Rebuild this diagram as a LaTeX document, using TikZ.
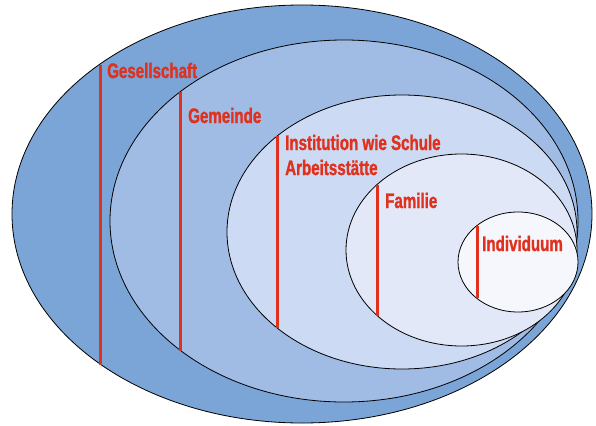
\documentclass[tikz,border=0pt]{standalone}
\usepackage{fontspec}
\setmainfont{Liberation Sans}[FakeStretch=0.72, BoldFeatures={FakeBold=1.2}]
\usetikzlibrary{positioning}

\definecolor{ringA}{HTML}{7AA5D6}
\definecolor{ringB}{HTML}{A0BCE4}
\definecolor{ringC}{HTML}{CCDAF3}
\definecolor{ringD}{HTML}{E2E8F7}
\definecolor{ringE}{HTML}{F5F7FC}
\definecolor{levelred}{HTML}{E0301E}

\begin{document}
\begin{tikzpicture}[x=1pt, y=-1pt,
    ring/.style={draw=black, line width=0.8pt},
    marker/.style={draw=levelred, line width=3pt},
    levelname/.style={anchor=base west, inner sep=0pt, text=levelred,
      font=\fontsize{21}{24}\selectfont\bfseries}]
  \useasboundingbox (0,0) rectangle (596,425);

  % nested rings, from outside to inside
  \draw[ring, fill=ringA] (302,214) ellipse [x radius=290, y radius=209];
  \draw[ring, fill=ringB] (344,221) ellipse [x radius=234, y radius=181];
  \draw[ring, fill=ringC] (402,232) ellipse [x radius=175, y radius=137];
  \draw[ring, fill=ringD] (461.5,250) ellipse [x radius=115.5, y radius=96];
  \draw[ring, fill=ringE] (518,262) ellipse [x radius=60, y radius=50];

  % red markers across each ring
  \coordinate (gesTop) at (100,65);   \coordinate (gesBot) at (100,365);
  \coordinate (gemTop) at (180,92);   \coordinate (gemBot) at (180,351);
  \coordinate (insTop) at (277,136);  \coordinate (insBot) at (277,328);
  \coordinate (famTop) at (377,185);  \coordinate (famBot) at (377,316);
  \coordinate (indTop) at (477,226);  \coordinate (indBot) at (477,298);
  \draw[marker] (gesTop) -- (gesBot);
  \draw[marker] (gemTop) -- (gemBot);
  \draw[marker] (insTop) -- (insBot);
  \draw[marker] (famTop) -- (famBot);
  \draw[marker] (indTop) -- (indBot);

  % level names
  \node[levelname] (ges) at (107,78) {Gesellschaft};
  \node[levelname] (gem) at (188,123) {Gemeinde};
  \node[levelname] (ins) at (285,150) {Institution wie Schule};
  \node[levelname] (arb) at (285,175) {Arbeitsstätte};
  \node[levelname] (fam) at (385,208) {Familie};
  \node[levelname] (ind) at (482,251) {Individuum};
\end{tikzpicture}
\end{document}
